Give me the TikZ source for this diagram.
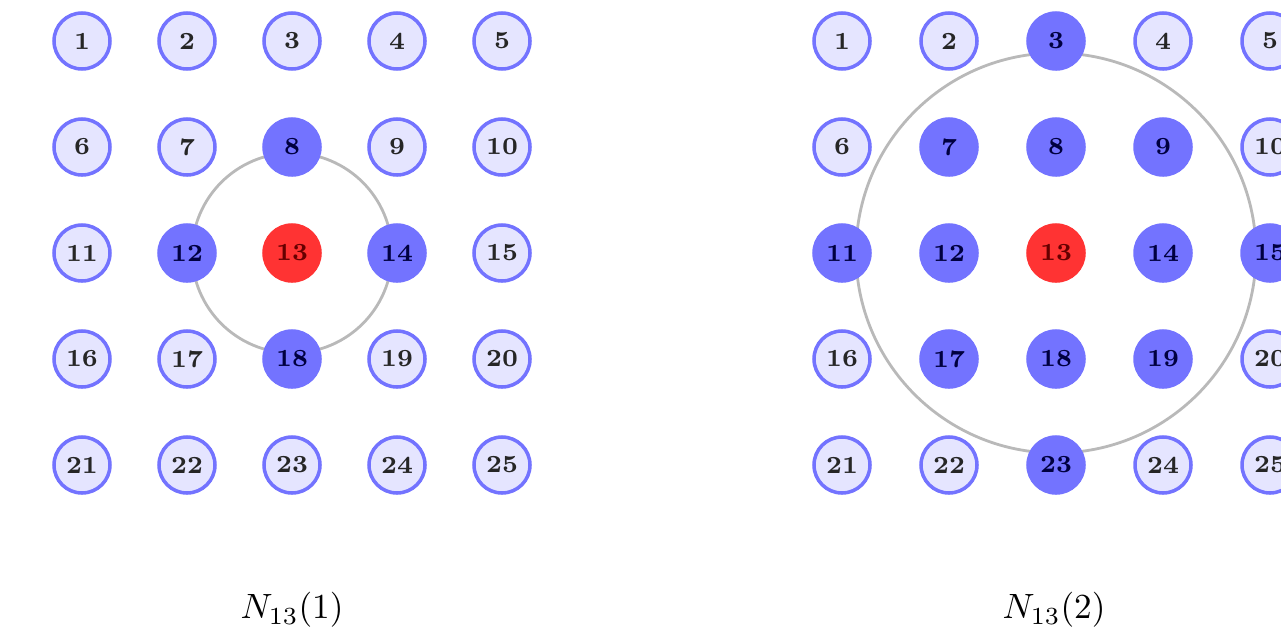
\documentclass[tikz,border=0pt]{standalone}
\usetikzlibrary{backgrounds}

\tikzset{
  vtx/.style={circle, minimum size=0.56cm, inner sep=0pt, line width=1pt,
              draw=blue!55, fill=blue!10, text=black!85,
              font=\scriptsize\bfseries},
  vtxn/.style={vtx, fill=blue!55, text=blue!25!black},
  vtxc/.style={vtx, draw=red!80, fill=red!80, text=red!40!black},
  ring/.style={draw=gray!55, line width=0.8pt}
}

\begin{document}
\begin{tikzpicture}
  % Two 5x5 grids of vertices; N_13(k) marks every vertex within
  % grid distance k of vertex 13 (dark blue), 13 itself in red.
  \useasboundingbox (0,0) rectangle (12.81,6.37);

  % --- both grids: k / left column / column step / name prefix ---
  \foreach \k/\xo/\dx/\g in {1/0.82/1.05/a, 2/8.42/1.07/b} {
    \foreach \r in {0,...,4} {
      \foreach \c in {0,...,4} {
        \pgfmathtruncatemacro\n{5*\r+\c+1}
        \pgfmathtruncatemacro\d{abs(\r-2)+abs(\c-2)}
        \ifnum\d=0 \def\sty{vtxc}\else
          \ifnum\d>\k \def\sty{vtx}\else \def\sty{vtxn}\fi\fi
        \node[\sty] (\g\n) at ({\xo+\dx*\c}, {5.96-1.06*\r}) {\n};
      }
    }
    % --- neighbourhood circle, behind the vertices ---
    \begin{pgfonlayer}{background}
      \draw[ring] (\g13) circle ({\k*1.0cm});
    \end{pgfonlayer}
  }

  % --- captions ---
  \node (capa) at (2.92,0.27) {$N_{13}(1)$};
  \node (capb) at (10.54,0.27) {$N_{13}(2)$};
\end{tikzpicture}
\end{document}
